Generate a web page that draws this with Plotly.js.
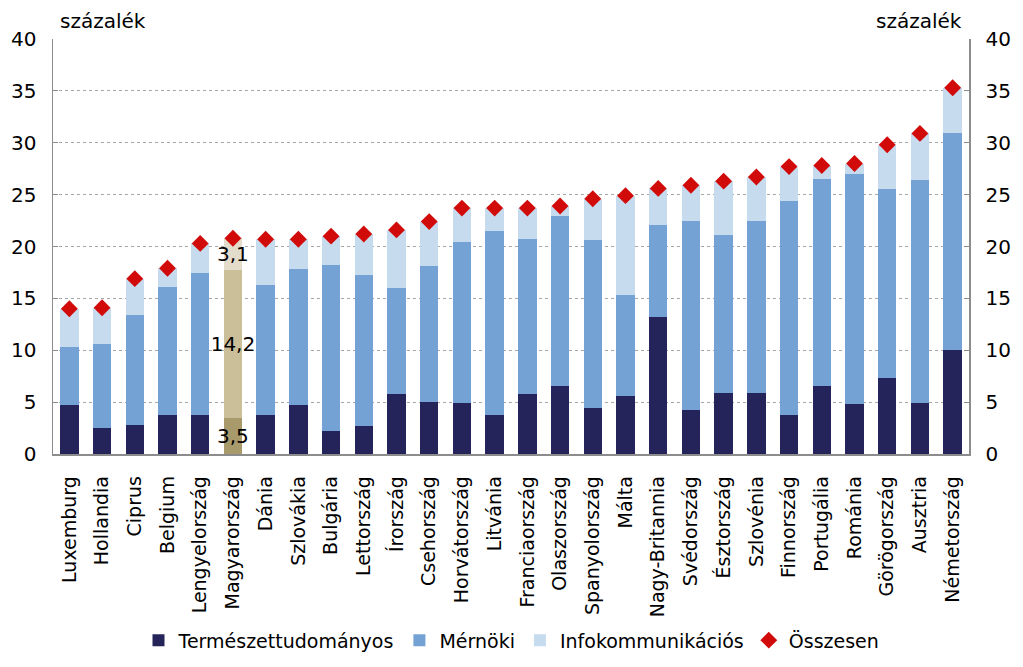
<!DOCTYPE html>
<html>
<head>
<meta charset="utf-8">
<script src="https://cdn.plot.ly/plotly-3.0.1.min.js"></script>
<style>html,body{margin:0;padding:0;background:#fff;}#chart{width:1023px;height:667px;}</style>
</head>
<body>
<div id="chart"></div>
<script>
const countries = ["Luxemburg","Hollandia","Ciprus","Belgium","Lengyelország","Magyarország","Dánia","Szlovákia","Bulgária","Lettország","Írország","Csehország","Horvátország","Litvánia","Franciaország","Olaszország","Spanyolország","Málta","Nagy-Britannia","Svédország","Észtország","Szlovénia","Finnország","Portugália","Románia","Görögország","Ausztria","Németország"];
const termeszet = [4.7,2.5,2.8,3.8,3.8,3.5,3.8,4.7,2.2,2.7,5.8,5.0,4.9,3.8,5.8,6.6,4.4,5.6,13.2,4.2,5.9,5.9,3.8,6.6,4.8,7.3,4.9,10.0];
const mernoki = [5.6,8.1,10.6,12.3,13.6,14.2,12.5,13.1,16.0,14.6,10.2,13.1,15.5,17.7,14.9,16.3,16.2,9.7,8.9,18.3,15.2,16.6,20.6,19.9,22.2,18.2,21.5,20.9];
const infokom = [3.7,3.5,3.5,1.8,2.9,3.1,4.4,2.9,2.8,3.9,5.6,4.3,3.3,2.2,3.0,1.0,4.0,9.6,3.5,3.4,5.2,4.2,3.3,1.3,1.0,4.3,4.5,4.4];
const osszesen = [14.0,14.1,16.9,17.9,20.3,20.8,20.7,20.7,21.0,21.2,21.6,22.4,23.7,23.7,23.7,23.9,24.6,24.9,25.6,25.9,26.3,26.7,27.7,27.8,28.0,29.8,30.9,35.3];
const highlight = "Magyarország";
const yTicks = [0,5,10,15,20,25,30,35,40];

const FONT = "DejaVu Sans";
const fmt = v => v.toFixed(1).replace('.', ',');
function colorsFor(base, hl){ return countries.map(c => c === highlight ? hl : base); }
function labelsFor(vals){ return countries.map((c,i) => c === highlight ? fmt(vals[i]) : ""); }

function barTrace(name, vals, base, hl){
  return {
    type: 'bar', name: name, x: countries, y: vals,
    marker: {color: colorsFor(base, hl), line: {width: 0}},
    text: labelsFor(vals), textposition: 'inside', insidetextanchor: 'middle',
    constraintext: 'none', textangle: 0,
    textfont: {family: FONT, size: 20, color: '#000'},
    hoverinfo: 'x+y+name'
  };
}

const traces = [
  barTrace('Természettudományos', termeszet, '#24245a', '#a99a6c'),
  barTrace('Mérnöki', mernoki, '#75a2d4', '#cbbf9a'),
  barTrace('Infokommunikációs', infokom, '#c6dcee', '#e4dccb'),
  {
    type: 'scatter', mode: 'markers', name: 'Összesen', x: countries, y: osszesen,
    yaxis: 'y2',
    marker: {symbol: 'diamond', size: 13, color: '#d10a0a', line: {width: 0}}
  }
];

const axisCommon = {
  range: [0, 40], tickvals: yTicks, ticktext: yTicks.map(String),
  showline: true, linecolor: '#8c8c8c', linewidth: 1.5,
  ticks: 'inside', ticklen: 5, tickcolor: '#8c8c8c',
  tickfont: {family: FONT, size: 20, color: '#000'},
  ticklabelstandoff: 11,
  automargin: false, fixedrange: true
};

const layout = {
  width: 1023, height: 667,
  margin: {l: 53, r: 54, t: 39, b: 213},
  paper_bgcolor: '#fff', plot_bgcolor: '#fff',
  barmode: 'stack', bargap: 0.44,
  showlegend: true,
  legend: {orientation: 'h', x: 0.5, xref: 'container', xanchor: 'center',
    y: 0.04, yref: 'container', yanchor: 'middle', bgcolor: 'rgba(0,0,0,0)',
    font: {family: FONT, size: 19, color: '#000'}, itemwidth: 30, traceorder: 'normal'},
  xaxis: {
    range: [-0.5, countries.length - 0.5],
    tickangle: -90, tickfont: {family: FONT, size: 19, color: '#000'},
    ticklabelstandoff: 13,
    showline: true, linecolor: '#8c8c8c', linewidth: 1.5, ticks: '', showgrid: false,
    automargin: false, fixedrange: true
  },
  yaxis: Object.assign({}, axisCommon, {
    side: 'left', showgrid: true, gridcolor: '#a6a6a6', griddash: 'dot', gridwidth: 1,
    zeroline: false
  }),
  yaxis2: Object.assign({}, axisCommon, {
    side: 'right', overlaying: 'y', matches: 'y', showgrid: false, zeroline: false
  }),
  annotations: [
    {text: 'százalék', xref: 'paper', yref: 'paper', x: 0.005, y: 1.01, xanchor: 'left', yanchor: 'bottom',
      showarrow: false, font: {family: FONT, size: 20, color: '#000'}},
    {text: 'százalék', xref: 'paper', yref: 'paper', x: 0.995, y: 1.01, xanchor: 'right', yanchor: 'bottom',
      showarrow: false, font: {family: FONT, size: 20, color: '#000'}}
  ]
};

Plotly.newPlot('chart', traces, layout, {displayModeBar: false, staticPlot: true});
</script>
</body>
</html>
